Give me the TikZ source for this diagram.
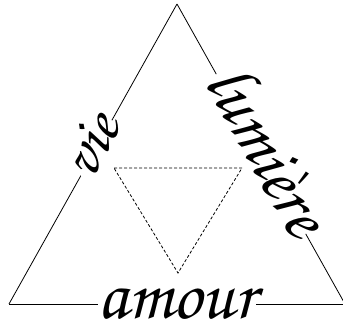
\documentclass[tikz,border=0pt]{standalone}
\newcommand{\scriptword}{\fontencoding{T1}\fontfamily{pzc}\fontseries{mb}\fontshape{it}\selectfont}
\begin{document}
\begin{tikzpicture}[x=1pt,y=1pt,
  side/.style={line width=0.8pt},
  word/.style={sloped,fill=white,inner sep=0pt,font=\scriptword\fontsize{72}{76}\selectfont},
  smallword/.style={word,font=\scriptword\fontsize{62}{66}\selectfont},
  inner/.style={line width=0.8pt,dash pattern=on 3pt off 2pt}]
\useasboundingbox (0,0) rectangle (343,320);
\coordinate (T) at (177,316);
\coordinate (L) at (9,16);
\coordinate (R) at (345,16);
\coordinate (a) at (114,152);
\coordinate (b) at (242,152);
\coordinate (c) at (178,47);
\draw[side] (L) -- node[smallword,pos=0.52,yshift=7pt] (vie) {vie} (T);
\draw[side] (T) -- node[word,pos=0.5,yshift=11pt] (lum) {lumi\`ere} (R);
\draw[side] (L) -- node[word] (amour) {amour} (R);
\draw[inner] (a) -- (b) -- (c) -- cycle;
\end{tikzpicture}
\end{document}
